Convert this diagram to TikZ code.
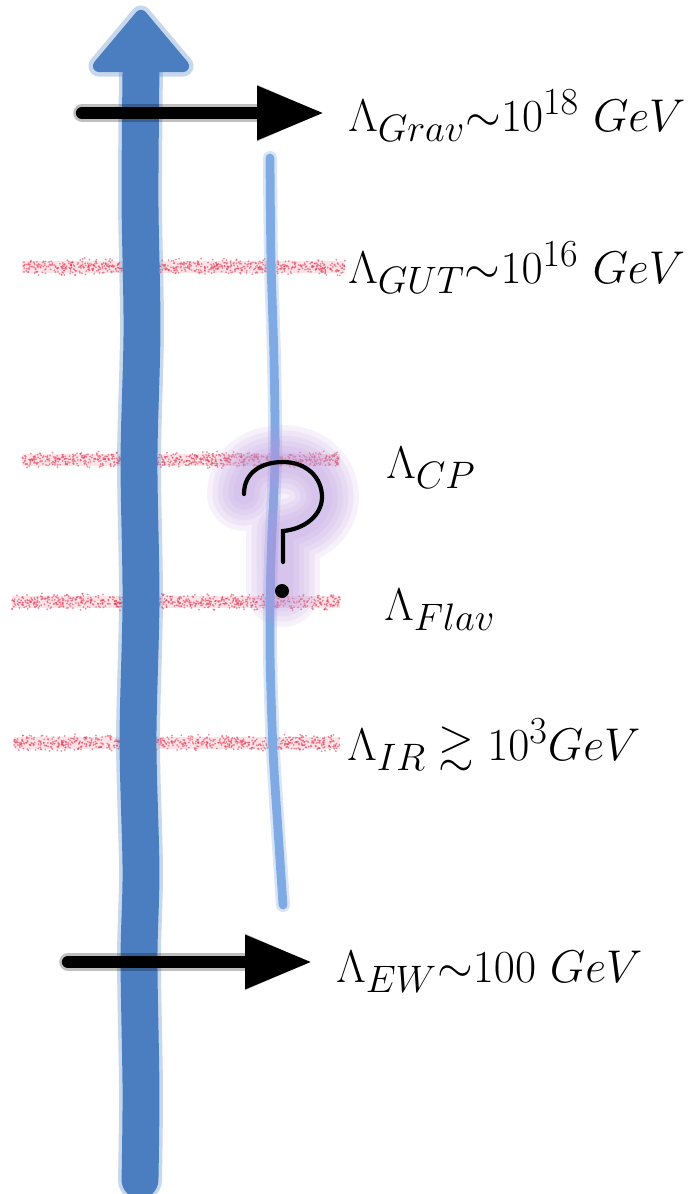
\documentclass[tikz,border=0pt]{standalone}
\usepackage{amsmath,amssymb}
\usetikzlibrary{arrows.meta}

\definecolor{scaleblue}{RGB}{74,126,193}
\definecolor{lightscale}{RGB}{128,170,228}
\definecolor{bandred}{RGB}{228,60,85}
\definecolor{glowpurple}{RGB}{185,150,222}

\begin{document}
\begin{tikzpicture}[x=0.02cm, y=-0.02cm,
    scalelabel/.style={anchor=base west, inner sep=0pt, font=\fontsize{24.88}{30}\selectfont, scale=1.05, transform shape},
    scalearrow/.style={line width=7pt, line cap=round, -{Triangle[length=38pt, width=29pt]}},
    shaft/.style={scaleblue, line width=21pt, line cap=round, line join=round},
    thinscale/.style={lightscale, line width=5pt, line cap=round, line join=round}
]
\useasboundingbox (0,0) rectangle (691,1194);

% Fuzzy scale bands
\pgfmathsetseed{11}
\foreach \by/\bx/\bend in {267/22/345, 460/22/340, 602/12/340, 743/14/340} {
  \fill[bandred, opacity=0.14] (\bx,\by-6) rectangle (\bend,\by+6);
  \foreach \k in {1,...,750}
    \fill[bandred, opacity=0.6] ({\bx+rnd*(\bend-\bx)}, {\by+(rnd+rnd-1)*9}) circle (1);
}

% Energy axis
\draw[shaft, line width=25pt, opacity=0.3] plot[smooth] coordinates {(141,70) (140,200) (142,330) (139,460) (141,600) (138,740) (141,870) (139,960) (141,1090) (140,1180)};
\draw[shaft] plot[smooth] coordinates {(141,70) (140,200) (142,330) (139,460) (141,600) (138,740) (141,870) (139,960) (141,1090) (140,1180)};
\filldraw[scaleblue, line width=12pt, line join=round, opacity=0.3] (141,16) -- (183,66) -- (99,66) -- cycle;
\filldraw[scaleblue, line width=7pt, line join=round] (141,16) -- (183,66) -- (99,66) -- cycle;

% Hidden scale line
\draw[thinscale, line width=8pt, opacity=0.3] plot[smooth] coordinates {(270,158) (271,260) (274,360) (275,460) (271,560) (270,650) (273,750) (278,830) (283,905)};
\draw[thinscale] plot[smooth] coordinates {(270,158) (271,260) (274,360) (275,460) (271,560) (270,650) (273,750) (278,830) (283,905)};

% Question mark
\foreach \w in {42,36,30,24,18,12} {
  \draw[glowpurple, line width=\w pt, opacity=0.13, line cap=round, line join=round] (244,494) .. controls (244,472) and (262,462) .. (283,462) .. controls (307,462) and (322,478) .. (322,497) .. controls (322,515) and (305,529) .. (283,531) -- (283,590);
}
\draw[black, line width=2.4pt, line cap=round] (244,494) .. controls (244,472) and (262,462) .. (283,462) .. controls (307,462) and (322,478) .. (322,497) .. controls (322,515) and (305,529) .. (283,531) -- (283,562);
\fill[black] (282,591) circle (7);

% Labels
\node[scalelabel] (grav) at (348,131) {$\Lambda_{Grav}{\sim}10^{18}\ GeV$};
\node[scalelabel] (gut) at (348,283) {$\Lambda_{GUT}{\sim}10^{16}\ GeV$};
\node[scalelabel] (cp) at (386,478) {$\Lambda_{CP}$};
\node[scalelabel] (flav) at (384,620) {$\Lambda_{Flav}$};
\node[scalelabel] (ir) at (347,760) {$\Lambda_{IR}\gtrsim 10^{3}GeV$};
\node[scalelabel] (ew) at (336,982) {$\Lambda_{EW}{\sim}100\ GeV$};

% Arrows
\coordinate (gravtail) at (82,113);
\coordinate (gravtip) at (324,113);
\coordinate (ewtail) at (68,962);
\coordinate (ewtip) at (312,962);
\draw[scalearrow, line width=10pt, opacity=0.25] (gravtail) -- (gravtip);
\draw[scalearrow] (gravtail) -- (gravtip);
\draw[scalearrow, line width=10pt, opacity=0.25] (ewtail) -- (ewtip);
\draw[scalearrow] (ewtail) -- (ewtip);

\end{tikzpicture}
\end{document}
